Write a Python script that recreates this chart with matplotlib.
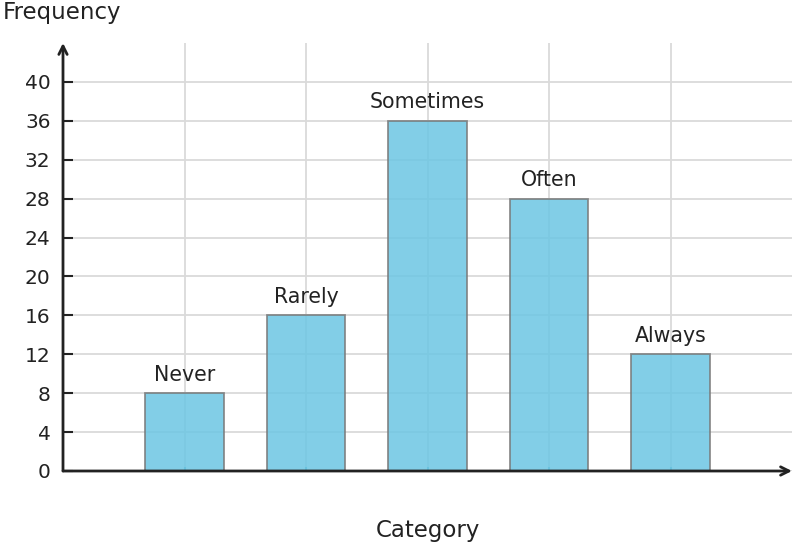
import matplotlib.pyplot as plt
import numpy as np

categories = ["Never", "Rarely", "Sometimes", "Often", "Always"]
counts = [8, 16, 36, 28, 12]
y_ticks = [0, 4, 8, 12, 16, 20, 24, 28, 32, 36, 40]

fig = plt.figure(figsize=(7.96, 5.48), dpi=100)
ax = fig.add_axes([63 / 796, 1 - 471 / 548, (792 - 63) / 796, (471 - 43) / 548])

x = np.arange(1, len(categories) + 1)
ax.set_xlim(0, 6)
ax.set_ylim(0, 44)

ax.set_axisbelow(True)
ax.grid(True, color="#dadada", linewidth=1.3)
ax.set_xticks(x)
ax.set_xticklabels([])
ax.set_yticks(y_ticks)
ax.tick_params(axis="y", direction="in", length=7, width=1.5, color="#222222",
               labelsize=14.5, labelcolor="#222222", pad=9)
ax.tick_params(axis="x", direction="in", length=3, width=1.5, color="#5aaecb")

bars = ax.bar(x, counts, width=0.65, color="#6cc6e3", alpha=0.85,
              edgecolor="#7a7a7a", linewidth=1.3, zorder=2)

for xi, c, name in zip(x, counts, categories):
    ax.annotate(name, (xi, c), xytext=(0, 6), textcoords="offset points",
                ha="center", va="bottom", fontsize=14.8, color="#222222")

for s in ax.spines.values():
    s.set_visible(False)

# axis arrows
ax.annotate("", xy=(1.0, 0), xytext=(0, 0), xycoords="axes fraction",
            arrowprops=dict(arrowstyle="->", color="#222222", lw=2,
                            shrinkA=0, shrinkB=0, mutation_scale=15),
            annotation_clip=False, zorder=5)
ax.annotate("", xy=(0, 1.0), xytext=(0, 0), xycoords="axes fraction",
            arrowprops=dict(arrowstyle="->", color="#222222", lw=2,
                            shrinkA=0, shrinkB=0, mutation_scale=15),
            annotation_clip=False, zorder=5)

fig.text(3 / 796, 1 - 13 / 548, "Frequency", fontsize=16.5, color="#222222",
         ha="left", va="center")
fig.text(428 / 796, 1 - 531 / 548, "Category", fontsize=16.5, color="#222222",
         ha="center", va="center")

fig.savefig("out.png", dpi=100)
